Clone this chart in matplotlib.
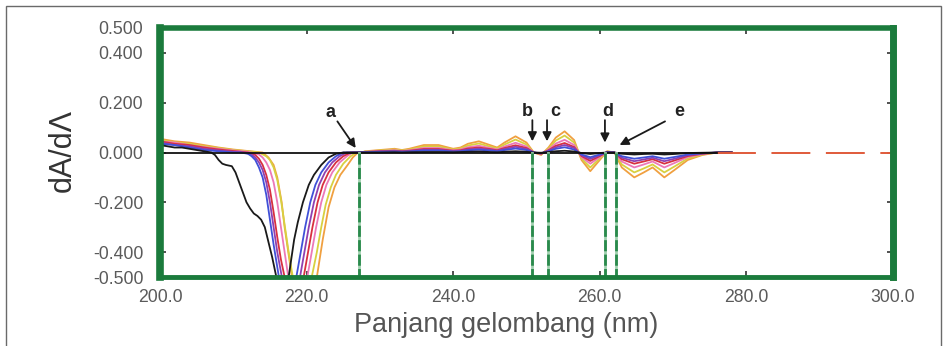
import matplotlib
matplotlib.use("Agg")
import matplotlib.pyplot as plt
from matplotlib.patches import Rectangle
import numpy as np

plt.rcParams['font.family'] = ['Liberation Sans', 'DejaVu Sans']

# ---------------- data ----------------
x_ticks = [200, 220, 240, 260, 280, 300]
x_tick_labels = ["200.0", "220.0", "240.0", "260.0", "280.0", "300.0"]
y_ticks = [-0.5, -0.4, -0.2, 0.0, 0.2, 0.4, 0.5]
y_tick_labels = ["-0.500", "-0.400", "-0.200", "0.000", "0.200", "0.400", "0.500"]

# main dip region (per series)
black_x = [200, 201, 202, 203, 204, 205, 206, 207, 207.5, 208, 208.5, 209, 209.8, 210.3, 210.8, 211.3, 211.8,
           212.3, 212.8, 213.3, 213.8, 214.3, 214.8, 215.3, 215.8, 216.3, 216.8, 217.3, 217.8, 218.3, 218.8,
           219.5, 220.3, 221, 222, 223, 224, 225, 226]
black_y = [0.03, 0.025, 0.02, 0.02, 0.015, 0.01, 0.005, 0.0, -0.01, -0.03, -0.045, -0.05, -0.055, -0.08, -0.12,
           -0.16, -0.2, -0.225, -0.245, -0.255, -0.27, -0.3, -0.36, -0.42, -0.49, -0.56, -0.6, -0.55, -0.45,
           -0.35, -0.28, -0.2, -0.13, -0.09, -0.05, -0.02, -0.005, 0.0, 0.0]

blue_x = [200, 202, 204, 206, 208, 210, 211, 212, 212.5, 213, 213.5, 214, 214.5, 215, 215.5, 216, 216.5, 217.2,
          218, 218.6, 219.2, 219.8, 220.5, 221.2, 222, 223, 224, 225, 226]
blue_y = [0.035, 0.03, 0.02, 0.01, 0.005, 0.0, 0.0, -0.005, -0.015, -0.03, -0.06, -0.1, -0.17, -0.27, -0.37,
          -0.46, -0.55, -0.6, -0.57, -0.5, -0.4, -0.3, -0.2, -0.13, -0.08, -0.04, -0.015, 0.0, 0.0]

purple_x = [200, 202, 204, 206, 208, 210, 211.5, 212.5, 213, 213.5, 214, 214.5, 215, 215.5, 216, 216.5, 217,
            217.8, 218.5, 219.1, 219.7, 220.3, 221, 221.7, 222.5, 223.5, 224.5, 225.5, 226.5]
purple_y = [0.04, 0.03, 0.025, 0.015, 0.008, 0.003, 0.0, -0.008, -0.02, -0.04, -0.07, -0.12, -0.2, -0.3, -0.4,
            -0.48, -0.56, -0.6, -0.57, -0.5, -0.4, -0.3, -0.2, -0.13, -0.08, -0.04, -0.015, 0.0, 0.0]

red_x = [200, 202, 204, 206, 208, 210, 212, 213, 213.5, 214, 214.5, 215, 215.5, 216, 216.5, 217, 217.5, 218.3,
         219, 219.6, 220.2, 220.8, 221.5, 222.2, 223, 224, 225, 226, 227]
red_y = [0.045, 0.035, 0.03, 0.02, 0.012, 0.006, 0.0, -0.01, -0.025, -0.05, -0.09, -0.15, -0.24, -0.34, -0.43,
         -0.5, -0.57, -0.6, -0.57, -0.5, -0.4, -0.3, -0.2, -0.13, -0.08, -0.04, -0.015, 0.0, 0.0]

pink_x = [200, 202, 204, 206, 208, 210, 212, 213.5, 214, 214.5, 215, 215.5, 216, 216.5, 217, 217.5, 218, 218.8,
          219.5, 220.1, 220.7, 221.3, 222, 222.7, 223.5, 224.5, 225.5, 226.3, 227]
pink_y = [0.045, 0.04, 0.03, 0.022, 0.015, 0.008, 0.003, -0.008, -0.02, -0.04, -0.07, -0.12, -0.2, -0.3, -0.4,
          -0.5, -0.57, -0.6, -0.57, -0.5, -0.4, -0.3, -0.2, -0.13, -0.08, -0.04, -0.015, 0.0, 0.0]

yellow_x = [200, 202, 204, 206, 208, 210, 212, 213.5, 214.5, 215, 215.5, 216, 216.5, 217, 217.5, 218, 218.5,
            219.3, 220.1, 220.7, 221.4, 222, 222.6, 223.3, 224, 225, 226, 226.8, 227.5]
yellow_y = [0.05, 0.04, 0.035, 0.025, 0.018, 0.01, 0.005, 0.0, -0.015, -0.03, -0.06, -0.11, -0.19, -0.29, -0.39,
            -0.48, -0.56, -0.6, -0.57, -0.5, -0.4, -0.3, -0.21, -0.14, -0.09, -0.045, -0.015, 0.0, 0.0]

orange_x = [200, 202, 204, 206, 208, 210, 212, 214, 214.8, 215.5, 216, 216.6, 217, 217.5, 218, 218.6, 219.5,
            220.5, 221.4, 222.2, 223, 223.8, 224.6, 225.6, 226.3, 227, 227.5]
orange_y = [0.055, 0.045, 0.04, 0.03, 0.02, 0.012, 0.006, 0.0, -0.02, -0.05, -0.1, -0.2, -0.3, -0.4, -0.5,
            -0.57, -0.6, -0.57, -0.5, -0.35, -0.22, -0.14, -0.09, -0.05, -0.02, 0.0, 0.0]

# shared wavelength grid of the small oscillations after the dip
tail_x = [228, 230, 232, 233, 234, 236, 238, 240, 241, 242, 243.5, 245, 246, 247, 248.5, 250, 251, 252, 253, 254,
          255.2, 256.5, 257.5, 258.7, 260, 261, 262, 263, 264.7, 266, 267.2, 268.8, 270.2, 272, 274, 276, 278]
orange_tail = [0.005, 0.01, 0.015, 0.01, 0.015, 0.03, 0.03, 0.015, 0.02, 0.035, 0.045, 0.03, 0.02, 0.04, 0.065,
               0.04, 0.0, -0.01, 0.02, 0.06, 0.085, 0.05, -0.03, -0.075, -0.03, 0.005, 0.0, -0.06, -0.1, -0.08,
               -0.06, -0.1, -0.07, -0.03, -0.01, 0.0, 0.0]
yellow_tail = [0.004, 0.008, 0.012, 0.008, 0.012, 0.024, 0.024, 0.012, 0.016, 0.028, 0.036, 0.024, 0.016, 0.032,
               0.052, 0.032, 0.0, -0.008, 0.016, 0.048, 0.068, 0.04, -0.024, -0.06, -0.024, 0.004, 0.0, -0.048,
               -0.08, -0.064, -0.048, -0.08, -0.056, -0.024, -0.008, 0.0, 0.0]
pink_tail = [0.003, 0.006, 0.009, 0.006, 0.009, 0.018, 0.018, 0.009, 0.012, 0.021, 0.027, 0.018, 0.012, 0.024,
             0.039, 0.024, 0.0, -0.006, 0.012, 0.036, 0.051, 0.03, -0.018, -0.045, -0.018, 0.003, 0.0, -0.036,
             -0.06, -0.048, -0.036, -0.06, -0.042, -0.018, -0.006, 0.0, 0.0]
red_tail = [0.002, 0.005, 0.007, 0.005, 0.007, 0.014, 0.014, 0.007, 0.009, 0.016, 0.02, 0.014, 0.009, 0.018,
            0.029, 0.018, 0.0, -0.005, 0.009, 0.027, 0.038, 0.022, -0.014, -0.034, -0.014, 0.002, 0.0, -0.027,
            -0.045, -0.036, -0.027, -0.045, -0.032, -0.014, -0.005, 0.0, 0.0]
purple_tail = [0.002, 0.004, 0.005, 0.004, 0.005, 0.011, 0.011, 0.005, 0.007, 0.012, 0.016, 0.011, 0.007, 0.014,
               0.023, 0.014, 0.0, -0.004, 0.007, 0.021, 0.03, 0.018, -0.011, -0.026, -0.011, 0.002, 0.0, -0.021,
               -0.035, -0.028, -0.021, -0.035, -0.025, -0.011, -0.004, 0.0, 0.0]
blue_tail = [0.001, 0.003, 0.004, 0.003, 0.004, 0.008, 0.008, 0.004, 0.005, 0.009, 0.011, 0.008, 0.005, 0.01,
             0.016, 0.01, 0.0, -0.003, 0.005, 0.015, 0.021, 0.012, -0.008, -0.019, -0.008, 0.001, 0.0, -0.015,
             -0.025, -0.02, -0.015, -0.025, -0.018, -0.008, -0.003, 0.0, 0.0]
black_tail = [0.0, 0.0, 0.001, 0.0, 0.001, 0.002, 0.002, 0.001, 0.002, 0.003, 0.004, 0.002, 0.001, 0.003, 0.005,
              0.003, 0.0, -0.001, 0.002, 0.005, 0.007, 0.004, -0.002, -0.006, -0.002, 0.0, 0.0, -0.005, -0.008,
              -0.006, -0.005, -0.008, -0.006, -0.002, -0.001, 0.0, 0.0]

# flat dashed continuation to 300 nm
flat_x = [276, 300]
flat_y = [0.0, 0.0]

# zero-crossing markers
marker_labels = ["a", "b", "c", "d", "e"]
marker_x = [227.1, 250.8, 252.9, 260.7, 262.2]
label_pos = [(223.3, 0.16), (250.1, 0.165), (253.9, 0.165), (261.1, 0.165), (270.9, 0.165)]
arrow_tail = [(224.2, 0.125), (250.8, 0.13), (252.8, 0.13), (260.7, 0.13), (268.9, 0.125)]
arrow_tip = [(226.7, 0.018), (250.8, 0.045), (252.8, 0.045), (260.7, 0.04), (262.7, 0.03)]

series = [
    ("orange", orange_x, orange_y, orange_tail, "#f0a040"),
    ("yellow", yellow_x, yellow_y, yellow_tail, "#d8d040"),
    ("pink", pink_x, pink_y, pink_tail, "#ec78b8"),
    ("red", red_x, red_y, red_tail, "#d83040"),
    ("purple", purple_x, purple_y, purple_tail, "#9040b0"),
    ("blue", blue_x, blue_y, blue_tail, "#4050d8"),
    ("black", black_x, black_y, black_tail, "#1a1a1a"),
]

# ---------------- figure ----------------
W, H = 947, 346
fig = plt.figure(figsize=(W / 100, H / 100), dpi=100)
fig.patch.set_facecolor("white")

# outer frame
fig.add_artist(Rectangle((6 / W, -0.05), (941 - 6) / W, 1 - 6 / H + 0.05,
                         transform=fig.transFigure, fill=False, edgecolor="#6a6a6a", lw=1.0))

ax = fig.add_axes([160 / W, 1 - 277 / H, (893 - 160) / W, (277 - 28) / H])
ax.set_xlim(200, 300)
ax.set_ylim(-0.5, 0.5)

for name, xs, ys, tail, col in series:
    ax.plot(list(xs) + tail_x, list(ys) + list(tail), color=col, lw=1.3, zorder=2)

ax.plot(flat_x, flat_y, color="#e05a3a", lw=1.4, dashes=(20, 8), zorder=2)
ax.plot([200, 276], [0, 0], color="#111111", lw=1.3, zorder=3)

for xv in marker_x:
    ax.plot([xv, xv], [0.0, -0.5], color="#9fd0ae", lw=2.0, zorder=3)
    ax.plot([xv, xv], [0.0, -0.5], color="#2a8a4c", lw=2.0, dashes=(4, 1.2), zorder=3)

for lab, (tx, ty), (ax0, ay0), (ax1, ay1) in zip(marker_labels, label_pos, arrow_tail, arrow_tip):
    ax.text(tx, ty, lab, ha="center", va="center", fontsize=13, fontweight="bold", color="#222222", zorder=5)
    ax.annotate("", xy=(ax1, ay1), xytext=(ax0, ay0),
                arrowprops=dict(arrowstyle="-|>", color="#1a1a1a", lw=1.3, mutation_scale=13,
                                shrinkA=0, shrinkB=0), zorder=5)

green = "#1b7b3c"
for side, lw in (("left", 5.5), ("right", 5.0), ("top", 4.0), ("bottom", 3.5)):
    ax.spines[side].set_color(green)
    ax.spines[side].set_linewidth(lw)
    ax.spines[side].set_zorder(6)

ax.set_xticks(x_ticks)
ax.set_xticklabels(x_tick_labels)
ax.set_yticks(y_ticks)
ax.set_yticklabels(y_tick_labels)
ax.tick_params(direction="in", length=4, width=1.2, color="#333333", top=True, right=True,
               labelsize=12.7, labelcolor="#5a5a5a")
ax.tick_params(axis="x", pad=9)
ax.tick_params(axis="y", pad=12)

fig.text(63 / W, 1 - 151 / H, "dA/dΛ", rotation=90, ha="center", va="center", fontsize=22, color="#333333")
fig.text(506 / W, 1 - 325 / H, "Panjang gelombang (nm)", ha="center", va="center", fontsize=19.5,
         color="#555555")

fig.savefig("out.png", dpi=100, facecolor="white")
